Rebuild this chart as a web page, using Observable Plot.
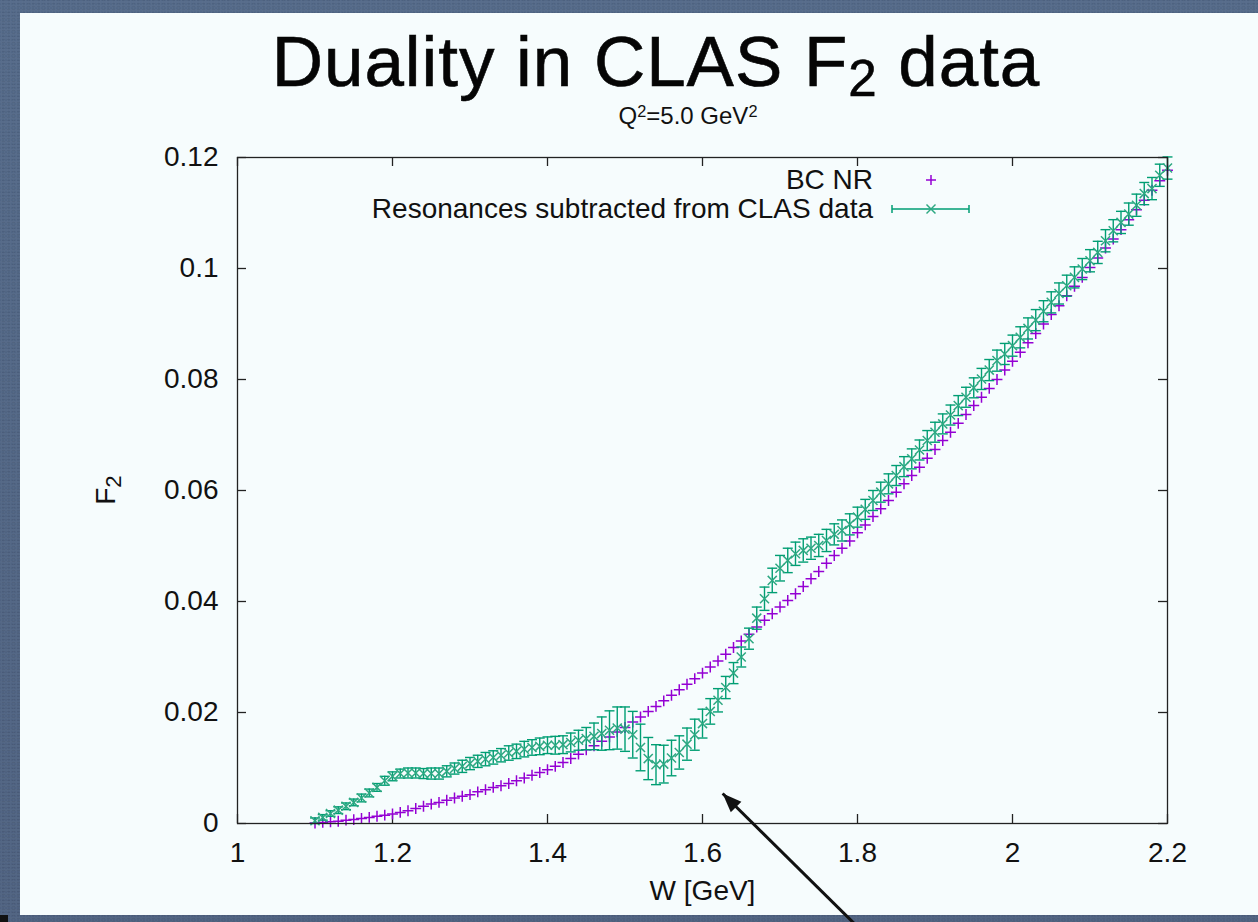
<!DOCTYPE html>
<html>
<head>
<meta charset="utf-8">
<script src="https://cdn.jsdelivr.net/npm/d3@7"></script>
<script src="https://cdn.jsdelivr.net/npm/@observablehq/plot@0.6"></script>
<style>
html,body{margin:0;padding:0;}
body{width:1258px;height:922px;overflow:hidden;position:relative;
  background-color:#4c6180;
  background-image:radial-gradient(rgba(255,255,255,0.05) 1px, transparent 1.8px),
                   radial-gradient(rgba(0,0,0,0.07) 1px, transparent 1.8px),
                   linear-gradient(180deg,#506686,#4a5e7d);
  background-size:3px 4px,5px 3px,100% 100%;
  background-position:0 0,1px 2px,0 0;
  font-family:"Liberation Sans",Arial,Helvetica,sans-serif;color:#111;}
#panel{position:absolute;left:20px;top:13px;width:1238px;height:902px;background:#f6fcfd;}
#corner{position:absolute;left:0;top:915px;width:8px;height:7px;background:#111;}
.t{position:absolute;white-space:nowrap;}
#title{left:656px;transform:translateX(-50%);top:30px;font-size:71px;letter-spacing:0.95px;line-height:0.9;color:#050505;-webkit-text-stroke:0.6px #050505;}
#title .sub{font-size:0.72em;vertical-align:-0.2em;line-height:0;}
#subtitle{left:688px;transform:translateX(-50%);top:104px;font-size:24px;line-height:1;}
#subtitle .sup{font-size:0.68em;vertical-align:7px;line-height:0;}
.leg{font-size:28px;line-height:1;text-align:right;width:600px;left:273px;}
#ylab{left:106px;top:490px;font-size:28px;line-height:1;transform:translate(-50%,-50%) rotate(-90deg);}
#ylab .sub{font-size:0.8em;vertical-align:-0.25em;line-height:0;}
#chart{position:absolute;left:0;top:130px;}
#legsym{position:absolute;left:880px;top:160px;}
</style>
</head>
<body>
<div id="panel"></div>
<div id="corner"></div>
<div id="chart"></div>
<div class="t" id="title">Duality in CLAS F<span class="sub">2</span> data</div>
<div class="t" id="subtitle">Q<span class="sup">2</span>=5.0 GeV<span class="sup">2</span></div>
<div class="t" id="ylab">F<span class="sub">2</span></div>
<div class="t leg" style="top:166px">BC NR</div>
<div class="t leg" style="top:195px">Resonances subtracted from CLAS data</div>
<svg id="legsym" width="100" height="70">
  <g stroke="#9400d3" stroke-width="1.5" fill="none">
    <line x1="46" y1="20" x2="56" y2="20"/><line x1="51" y1="15" x2="51" y2="25"/>
  </g>
  <g stroke="#009e73" stroke-width="1.5" fill="none">
    <line x1="12" y1="49" x2="89" y2="49"/>
    <line x1="12" y1="45" x2="12" y2="53"/><line x1="89" y1="45" x2="89" y2="53"/>
  </g>
  <g stroke="#2ea882" stroke-width="1.5" fill="none">
    <line x1="46.5" y1="44.5" x2="55.5" y2="53.5"/><line x1="46.5" y1="53.5" x2="55.5" y2="44.5"/>
  </g>
</svg>
<script>
// ---- data ----
const W = [
  1.10,1.11,1.12,1.13,1.14,1.15,1.16,1.17,1.18,1.19,
  1.20,1.21,1.22,1.23,1.24,1.25,1.26,1.27,1.28,1.29,
  1.30,1.31,1.32,1.33,1.34,1.35,1.36,1.37,1.38,1.39,
  1.40,1.41,1.42,1.43,1.44,1.45,1.46,1.47,1.48,1.49,
  1.50,1.51,1.52,1.53,1.54,1.55,1.56,1.57,1.58,1.59,
  1.60,1.61,1.62,1.63,1.64,1.65,1.66,1.67,1.68,1.69,
  1.70,1.71,1.72,1.73,1.74,1.75,1.76,1.77,1.78,1.79,
  1.80,1.81,1.82,1.83,1.84,1.85,1.86,1.87,1.88,1.89,
  1.90,1.91,1.92,1.93,1.94,1.95,1.96,1.97,1.98,1.99,
  2.00,2.01,2.02,2.03,2.04,2.05,2.06,2.07,2.08,2.09,
  2.10,2.11,2.12,2.13,2.14,2.15,2.16,2.17,2.18,2.19,
  2.20
];
const bcNR = [
  0.0001,0.0002,0.0003,0.0004,0.0006,0.0007,0.0009,0.0011,0.0013,0.0015,
  0.0017,0.0020,0.0023,0.0027,0.0031,0.0035,0.0038,0.0042,0.0046,0.0049,
  0.0052,0.0057,0.0061,0.0065,0.0068,0.0072,0.0077,0.0082,0.0087,0.0092,
  0.0097,0.0103,0.0110,0.0117,0.0125,0.0133,0.0140,0.0148,0.0156,0.0165,
  0.0173,0.0183,0.0192,0.0202,0.0211,0.0221,0.0231,0.0241,0.0251,0.0261,
  0.0271,0.0282,0.0293,0.0305,0.0317,0.0329,0.0341,0.0354,0.0366,0.0378,
  0.0390,0.0402,0.0414,0.0427,0.0441,0.0454,0.0469,0.0483,0.0496,0.0509,
  0.0524,0.0538,0.0553,0.0567,0.0582,0.0597,0.0612,0.0627,0.0642,0.0658,
  0.0674,0.0690,0.0705,0.0721,0.0737,0.0753,0.0768,0.0784,0.0800,0.0817,
  0.0833,0.0849,0.0866,0.0883,0.0900,0.0917,0.0933,0.0951,0.0968,0.0984,
  0.1002,0.1019,0.1037,0.1053,0.1070,0.1088,0.1106,0.1123,0.1141,0.1158,
  0.1177
];
const clasF2 = [
  0.0005,0.0011,0.0018,0.0024,0.0031,0.0038,0.0046,0.0055,0.0065,0.0077,
  0.0085,0.0090,0.0091,0.0091,0.0090,0.0090,0.0090,0.0094,0.0099,0.0103,
  0.0108,0.0112,0.0116,0.0119,0.0123,0.0127,0.0130,0.0134,0.0137,0.0139,
  0.0141,0.0141,0.0142,0.0146,0.0150,0.0153,0.0157,0.0162,0.0168,0.0172,
  0.0170,0.0160,0.0137,0.0117,0.0106,0.0107,0.0118,0.0128,0.0143,0.0160,
  0.0180,0.0202,0.0222,0.0245,0.0271,0.0300,0.0333,0.0370,0.0405,0.0438,
  0.0460,0.0474,0.0486,0.0492,0.0496,0.0501,0.0510,0.0521,0.0528,0.0539,
  0.0552,0.0566,0.0582,0.0597,0.0612,0.0627,0.0643,0.0657,0.0673,0.0690,
  0.0705,0.0720,0.0736,0.0753,0.0768,0.0785,0.0801,0.0817,0.0834,0.0846,
  0.0861,0.0876,0.0892,0.0907,0.0923,0.0939,0.0955,0.0969,0.0984,0.0999,
  0.1014,0.1029,0.1050,0.1068,0.1083,0.1098,0.1114,0.1135,0.1144,0.1168,
  0.1181
];
const clasErr = [
  0.0005,0.0005,0.0005,0.0006,0.0006,0.0006,0.0007,0.0007,0.0007,0.0008,
  0.0008,0.0008,0.0009,0.0009,0.0009,0.0010,0.0010,0.0010,0.0010,0.0011,
  0.0011,0.0011,0.0012,0.0012,0.0012,0.0013,0.0013,0.0014,0.0014,0.0015,
  0.0015,0.0016,0.0016,0.0017,0.0018,0.0020,0.0024,0.0030,0.0035,0.0038,
  0.0040,0.0042,0.0042,0.0038,0.0036,0.0034,0.0032,0.0030,0.0029,0.0028,
  0.0026,0.0023,0.0021,0.0020,0.0019,0.0018,0.0019,0.0020,0.0021,0.0022,
  0.0023,0.0022,0.0021,0.0021,0.0020,0.0020,0.0020,0.0019,0.0019,0.0019,
  0.0018,0.0018,0.0018,0.0018,0.0018,0.0018,0.0018,0.0018,0.0018,0.0018,
  0.0018,0.0018,0.0018,0.0018,0.0018,0.0018,0.0019,0.0019,0.0019,0.0019,
  0.0019,0.0019,0.0019,0.0019,0.0019,0.0019,0.0019,0.0019,0.0019,0.0019,
  0.0020,0.0020,0.0020,0.0020,0.0020,0.0020,0.0020,0.0020,0.0020,0.0020,
  0.0020
];
const xTicks = [1, 1.2, 1.4, 1.6, 1.8, 2, 2.2];
const yTicks = [0, 0.02, 0.04, 0.06, 0.08, 0.1, 0.12];
// annotation arrow (data coordinates: tail below the axis, tip near W=1.63)
const arrowNote = [{x1: 1.80, y1: -0.0186, x2: 1.626, y2: 0.0054}];

// ---- build ----
const purple = "#9400d3", green = "#009e73";
const bc = W.map((w, i) => ({W: w, F2: bcNR[i]}));
const clas = W.map((w, i) => ({W: w, F2: clasF2[i], err: clasErr[i]}));

const capSym = {draw(ctx) { ctx.moveTo(-5, 0); ctx.lineTo(5, 0); }};
const headSym = {draw(ctx) { ctx.moveTo(0, 0); ctx.lineTo(-7.5, 19); ctx.lineTo(7.5, 19); ctx.closePath(); }};

const fw = 1258 - 237 - 91, fh = 792 - 27 - 99, tk = 9;
const axisCol = "#222";

const chart = Plot.plot({
  width: 1258, height: 792,
  marginLeft: 237, marginRight: 91, marginTop: 27, marginBottom: 99,
  style: {background: "transparent", fontFamily: "'Liberation Sans', Arial, Helvetica, sans-serif", fontSize: "28px", color: "#111", overflow: "visible"},
  x: {domain: [1, 2.2], ticks: xTicks, tickFormat: d => String(d), tickSize: 0, tickPadding: 19, label: null},
  y: {domain: [0, 0.12], ticks: yTicks, tickFormat: d => String(d), tickSize: 0, tickPadding: 19, label: null},
  marks: [
    Plot.tickY(yTicks, {y: d => d, insetRight: fw - tk, stroke: axisCol, strokeWidth: 1.3}),
    Plot.tickY(yTicks, {y: d => d, insetLeft: fw - tk, stroke: axisCol, strokeWidth: 1.3}),
    Plot.tickX(xTicks, {x: d => d, insetTop: fh - tk, stroke: axisCol, strokeWidth: 1.3}),
    Plot.tickX(xTicks, {x: d => d, insetBottom: fh - tk, stroke: axisCol, strokeWidth: 1.3}),
    Plot.dot(bc, {x: "W", y: "F2", symbol: "plus", r: 3.6, stroke: purple, strokeWidth: 1.5}),
    Plot.ruleX(clas, {x: "W", y1: d => d.F2 - d.err, y2: d => d.F2 + d.err, stroke: green, strokeWidth: 1.4}),
    Plot.dot(clas, {x: "W", y: d => d.F2 - d.err, symbol: capSym, fill: "none", stroke: green, strokeWidth: 1.4}),
    Plot.dot(clas, {x: "W", y: d => d.F2 + d.err, symbol: capSym, fill: "none", stroke: green, strokeWidth: 1.4}),
    Plot.dot(clas, {x: "W", y: "F2", symbol: "times", r: 4.2, stroke: "#2ea882", strokeWidth: 1.5}),
    Plot.frame({stroke: axisCol, strokeWidth: 1.3}),
    Plot.text(["W [GeV]"], {text: d => d, frameAnchor: "bottom", dy: 76, fontSize: 28, fill: "#111"}),
    Plot.link(arrowNote, {x1: "x1", y1: "y1", x2: "x2", y2: "y2", stroke: "#111", strokeWidth: 3}),
    Plot.dot(arrowNote, {x: "x2", y: "y2", symbol: headSym, rotate: -45, fill: "#111", stroke: "none"})
  ]
});
document.getElementById("chart").appendChild(chart);
</script>
</body>
</html>
